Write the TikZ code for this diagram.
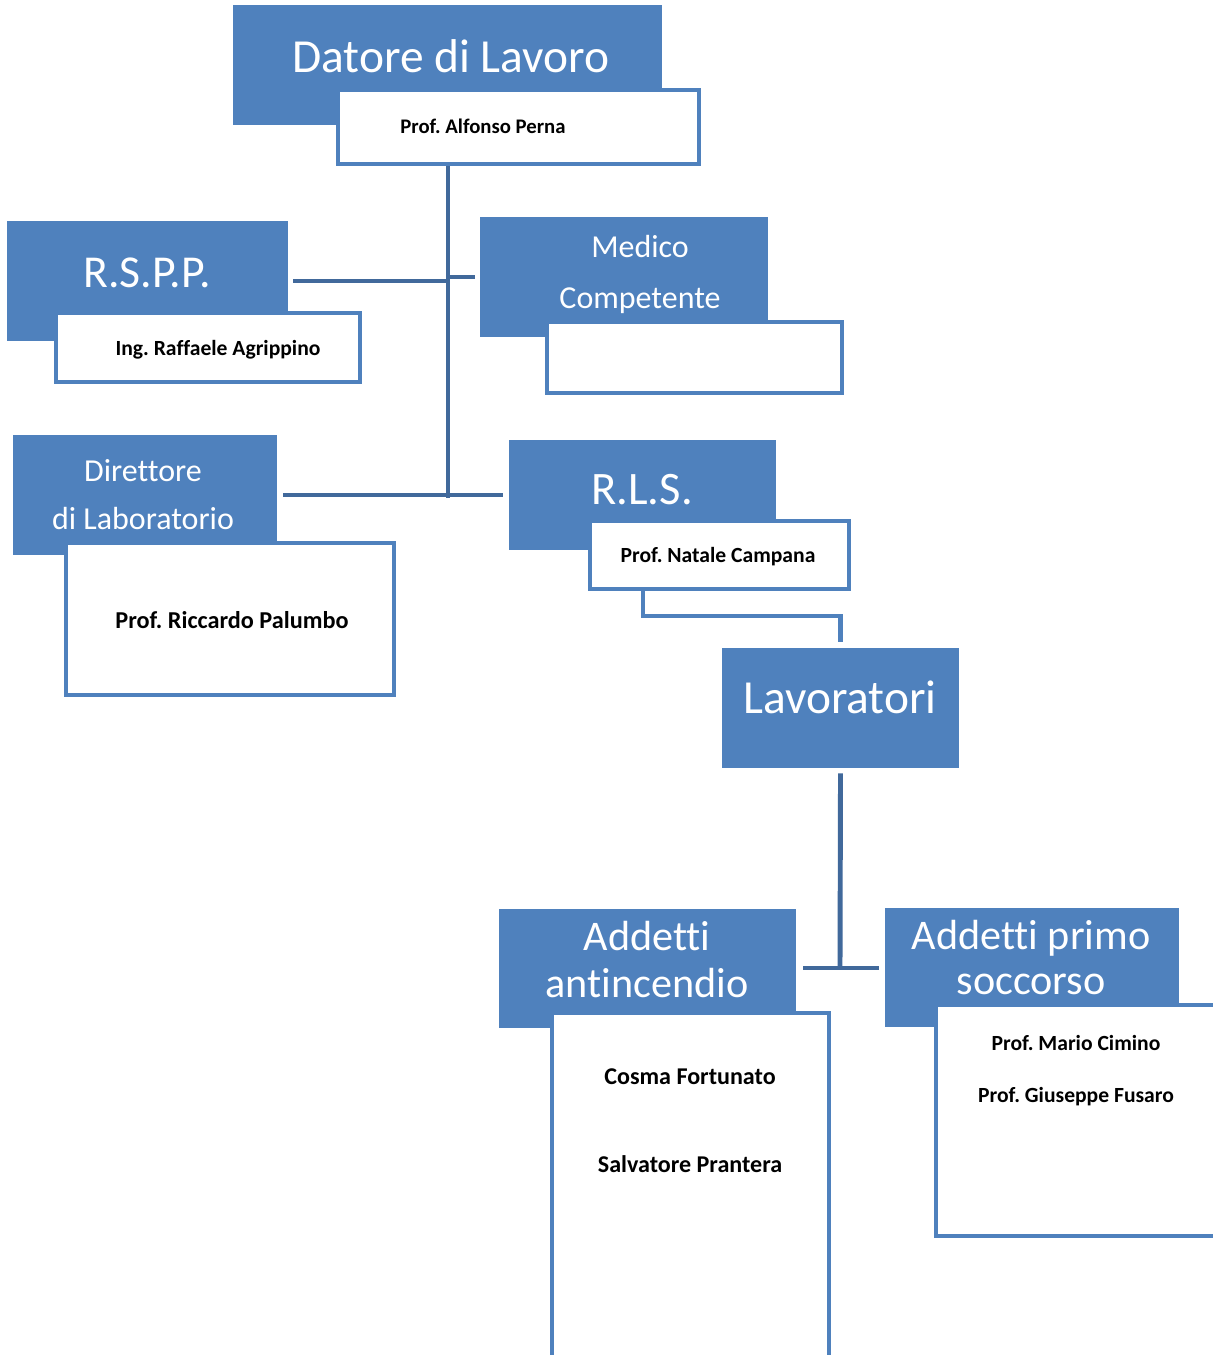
\documentclass[tikz,border=0pt]{standalone}
\usepackage{fontspec}
\setmainfont[Ligatures=NoCommon]{Carlito}
\frenchspacing
\usetikzlibrary{fit}
\definecolor{boxblue}{HTML}{4F81BD}
\definecolor{lineblue}{HTML}{41699B}

\begin{document}
\begin{tikzpicture}[x=0.02cm, y=-0.02cm,
        bluebox/.style={fill=boxblue, inner sep=0pt},
        whitebox/.style={draw=boxblue, fill=white, line width=2.3pt, inner sep=0pt},
        big/.style={anchor=base, text=white, font=\fontsize{27}{31}\selectfont},
        mid/.style={anchor=base, text=white, font=\fontsize{18.2}{22}\selectfont},
        wide/.style={anchor=base, text=white, font=\fontsize{24}{28}\selectfont},
        person/.style={anchor=base, font=\bfseries\fontsize{12.3}{14}\selectfont},
        link/.style={draw=lineblue, line width=2.8pt},
        thinlink/.style={draw=boxblue, line width=2.3pt}]
        \path[use as bounding box, clip] (0,0) rectangle (1213,1355);

        % blue heads
        \node[bluebox, fit={(233,5) (662,125)}] (datore) {};
        \node[bluebox, fit={(7,221) (288,341)}] (rspp) {};
        \node[bluebox, fit={(480,217) (768,337)}] (medico) {};
        \node[bluebox, fit={(13,435) (277,555)}] (direttore) {};
        \node[bluebox, fit={(509,440) (776,550)}] (rls) {};
        \node[bluebox, fit={(722,648) (959,768)}] (lavoratori) {};
        \node[bluebox, fit={(499,909) (796,1028)}] (antincendio) {};
        \node[bluebox, fit={(885,908) (1179,1027)}] (soccorso) {};

        % white boxes
        \node[whitebox, fit={(338,90) (699,164)}] (alfonso) {};
        \node[whitebox, fit={(56,313) (360,382)}] (agrippino) {};
        \node[whitebox, fit={(547,322) (842,393)}] (medicoN) {};
        \node[whitebox, fit={(66,543) (394,695)}] (palumbo) {};
        \node[whitebox, fit={(590,521) (849,589)}] (campana) {};
        \node[whitebox, fit={(552,1013) (829,1380)}] (antincendioN) {};
        \node[whitebox, fit={(936,1005) (1230,1236)}] (soccorsoN) {};

        % connectors
        \coordinate (jr) at (448,281);
        \coordinate (jm) at (448,277);
        \coordinate (jb) at (448,495);
        \coordinate (ka) at (643,616);
        \coordinate (jl) at (840,968);
        \draw[link] (alfonso.south -| jb) -- ([yshift=-0.05cm]jb);
        \draw[link] ([xshift=0.1cm]rspp.east |- jr) -- (jr);
        \draw[link] (jm) -- ([xshift=-0.1cm]medico.west |- jm);
        \draw[link] ([xshift=0.12cm]direttore.east |- jb) -- ([xshift=-0.12cm]rls.west |- jb);
        \draw[thinlink] (campana.south -| ka) |- (lavoratori.north |- ka) -- ([yshift=0.12cm]lavoratori.north);
        \draw[link] ([yshift=-0.1cm]lavoratori.south) -- (jl);
        \draw[link] ([xshift=0.14cm]antincendio.east |- jl) -- ([xshift=-0.12cm]soccorso.west |- jl);

        % titles
        \node[big] (datoreT) at (451,72) {Datore di Lavoro};
        \node[big, font=\fontsize{26}{30}\selectfont] (rsppT) at (147,287) {R.S.P.P.};
        \node[mid] (medicoT1) at (640,257) {Medico};
        \node[mid] (medicoT2) at (640,308) {Competente};
        \node[mid] (direttoreT1) at (143,481) {Direttore};
        \node[mid] (direttoreT2) at (143,529) {di Laboratorio};
        \node[big, font=\fontsize{26.5}{30}\selectfont] (rlsT) at (642,504) {R.L.S.};
        \node[big] (lavoratoriT) at (840,713) {Lavoratori};
        \node[wide] (antincendioT1) at (647,950) {Addetti};
        \node[wide] (antincendioT2) at (647,997) {antincendio};
        \node[wide] (soccorsoT1) at (1031,949) {Addetti primo};
        \node[wide] (soccorsoT2) at (1031,994) {soccorso};

        % names
        \node[person, font=\bfseries\fontsize{11.8}{13}\selectfont] (alfonsoT) at (483,133) {Prof. Alfonso Perna};
        \node[person] (agrippinoT) at (218,355) {Ing. Raffaele Agrippino};
        \node[person, font=\bfseries\fontsize{13.8}{16}\selectfont] (palumboT) at (232,628) {Prof. Riccardo Palumbo};
        \node[person] (campanaT) at (718,562) {Prof. Natale Campana};
        \node[person, font=\bfseries\fontsize{13.7}{15}\selectfont] (cosmaT) at (690,1084) {Cosma Fortunato};
        \node[person, font=\bfseries\fontsize{13.7}{15}\selectfont] (salvatoreT) at (690,1172) {Salvatore Prantera};
        \node[person] (marioT) at (1076,1050) {Prof. Mario Cimino};
        \node[person] (giuseppeT) at (1076,1102) {Prof. Giuseppe Fusaro};
\end{tikzpicture}
\end{document}
